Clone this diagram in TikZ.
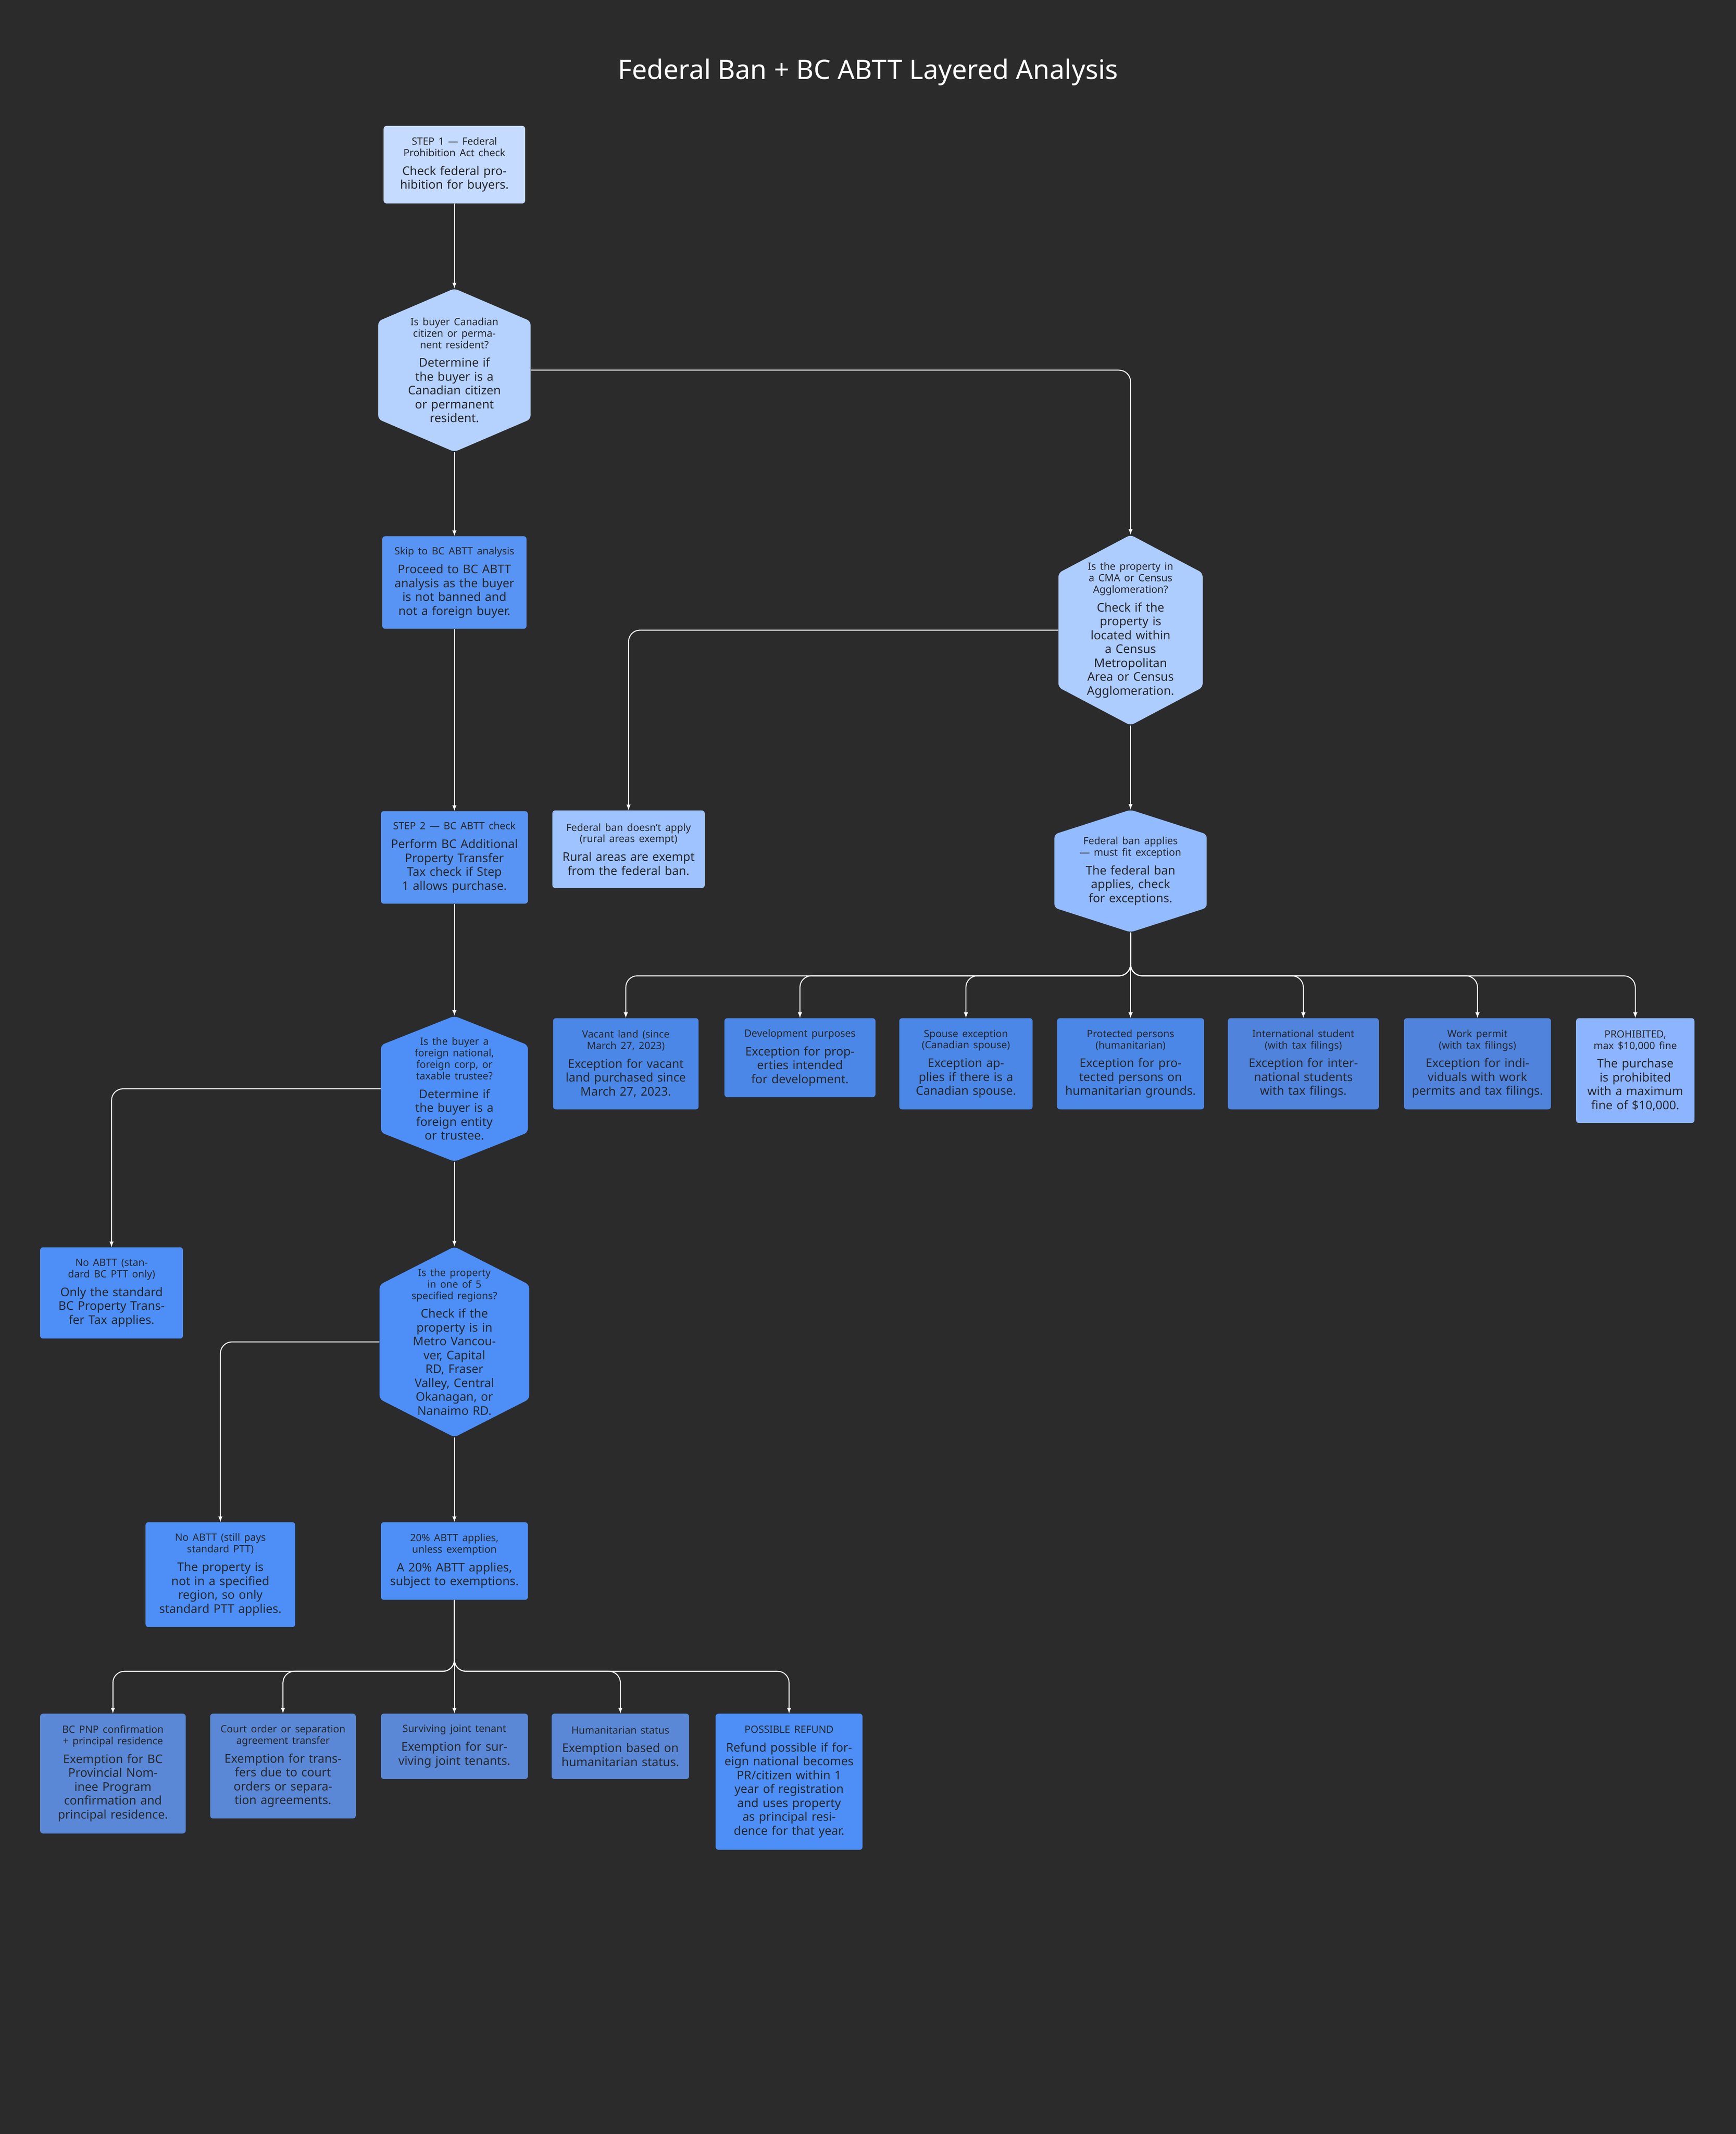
\documentclass[tikz,border=0pt]{standalone}
\usepackage{fontspec}
\setmainfont{Noto Sans}
\usetikzlibrary{positioning}
\definecolor{bg}{HTML}{2B2B2B}
\definecolor{ink}{HTML}{26282D}
\definecolor{cA}{HTML}{C5DBFF}
\definecolor{cB}{HTML}{B5D2FF}
\definecolor{cC}{HTML}{AECDFF}
\definecolor{cD}{HTML}{9EC3FF}
\definecolor{cE}{HTML}{93BBFF}
\definecolor{cF}{HTML}{8DB5FF}
\definecolor{cG}{HTML}{5894F3}
\definecolor{cH}{HTML}{4D8FF7}
\definecolor{cI}{HTML}{4B87E6}
\definecolor{cJ}{HTML}{4F83DC}
\definecolor{cK}{HTML}{5A88D6}
\newcommand{\hdfont}{\bfseries\fontsize{10.5}{12}\selectfont}
\newcommand{\ntext}[2]{{\hdfont #1\par}\vspace{5pt}#2}
\tikzset{
  box/.style={rectangle, rounded corners=3pt, fill=#1, text=ink, align=center,
    font=\fontsize{12.5}{14.5}\selectfont, inner sep=0pt},
  hex/.style={rectangle, text=ink, align=center, inner sep=0pt,
    font=\fontsize{12.5}{14.5}\selectfont,
    path picture={\fill[#1, rounded corners=4pt]
      (path picture bounding box.north)
      -- ($(path picture bounding box.north east)!0.2!(path picture bounding box.south east)$)
      -- ($(path picture bounding box.north east)!0.8!(path picture bounding box.south east)$)
      -- (path picture bounding box.south)
      -- ($(path picture bounding box.north west)!0.8!(path picture bounding box.south west)$)
      -- ($(path picture bounding box.north west)!0.2!(path picture bounding box.south west)$)
      -- cycle;}},
  sz/.style n args={3}{minimum width=#1*0.5mm, minimum height=#2*0.5mm, text width=#3*0.5mm},
  conn/.style={draw=white, line width=1pt, ->, rounded corners=12pt}
}
\usetikzlibrary{calc}
\begin{document}
\begin{tikzpicture}[x=0.5mm, y=-0.5mm, >=latex]
\fill[bg] (0,0) rectangle (1276,1568);
\useasboundingbox (0,0) rectangle (1276,1568);

\node[text=white, font=\bfseries\fontsize{28}{32}\selectfont] (title) at (638,53) {Federal Ban + BC ABTT Layered Analysis};

% linke Kette
\node[box=cA, sz={104}{57}{92}] (step1) at (334,121) {\ntext{STEP 1 --- Federal Prohibition Act check}{Check federal prohibition for buyers.}};
\node[hex=cB, sz={112}{120}{70}] (citizen) at (334,272) {\ntext{Is buyer Canadian citizen or permanent resident?}{Determine if the buyer is a Canadian citizen or permanent resident.}};
\node[box=cG, sz={106}{68}{94}] (skip) at (334,428) {\ntext{Skip to BC ABTT analysis}{Proceed to BC ABTT analysis as the buyer is not banned and not a foreign buyer.}};
\node[box=cG, sz={108}{68}{96}] (step2) at (334,630) {\ntext{STEP 2 --- BC ABTT check}{Perform BC Additional Property Transfer Tax check if Step 1 allows purchase.}};
\node[hex=cH, sz={108}{107}{66}] (foreign) at (334,800) {\ntext{Is the buyer a foreign national, foreign corp, or taxable trustee?}{Determine if the buyer is a foreign entity or trustee.}};
\node[box=cH, sz={105}{67}{93}] (noabttA) at (82,950) {\ntext{No ABTT (standard BC PTT only)}{Only the standard BC Property Transfer Tax applies.}};
\node[hex=cH, sz={110}{140}{70}] (regions) at (334,986) {\ntext{Is the property in one of 5 specified regions?}{Check if the property is in Metro Vancouver, Capital RD, Fraser Valley, Central Okanagan, or Nanaimo RD.}};
\node[box=cH, sz={110}{77}{96}] (noabttB) at (162,1157) {\ntext{No ABTT (still pays standard PTT)}{The property is not in a specified region, so only standard PTT applies.}};
\node[box=cH, sz={108}{57}{96}] (abtt) at (334,1147) {\ntext{20\% ABTT applies, unless exemption}{A 20\% ABTT applies, subject to exemptions.}};

% Ausnahmen BC
\node[box=cK, sz={107}{88}{96}, anchor=north] (bcpnp) at (83,1259) {\ntext{BC PNP confirmation + principal residence}{Exemption for BC Provincial Nominee Program confirmation and principal residence.}};
\node[box=cK, sz={107}{77}{96}, anchor=north] (court) at (208,1259) {\ntext{Court order or separation agreement transfer}{Exemption for transfers due to court orders or separation agreements.}};
\node[box=cK, sz={108}{48}{98}, anchor=north] (joint) at (334,1259) {\ntext{Surviving joint tenant}{Exemption for surviving joint tenants.}};
\node[box=cK, sz={101}{48}{93}, anchor=north] (human) at (456,1259) {\ntext{Humanitarian status}{Exemption based on humanitarian status.}};
\node[box=cH, sz={108}{100}{96}, anchor=north] (refund) at (580,1259) {\ntext{POSSIBLE REFUND}{Refund possible if foreign national becomes PR/citizen within 1 year of registration and uses property as principal residence for that year.}};

% rechte Kette
\node[hex=cC, sz={106}{140}{66}] (cma) at (831,463) {\ntext{Is the property in a CMA or Census Agglomeration?}{Check if the property is located within a Census Metropolitan Area or Census Agglomeration.}};
\node[box=cD, sz={112}{57}{100}] (fedno) at (462,624) {\ntext{Federal ban doesn't apply (rural areas exempt)}{Rural areas are exempt from the federal ban.}};
\node[hex=cE, sz={112}{90}{76}] (fedyes) at (831,640) {\ntext{Federal ban applies --- must fit exception}{The federal ban applies, check for exceptions.}};

% Ausnahmen Bund
\node[box=cI, sz={107}{67}{98}, anchor=north] (vacant) at (460,748) {\ntext{Vacant land (since March 27, 2023)}{Exception for vacant land purchased since March 27, 2023.}};
\node[box=cI, sz={111}{58}{100}, anchor=north] (devel) at (588,748) {\ntext{Development purposes}{Exception for properties intended for development.}};
\node[box=cI, sz={98}{67}{88}, anchor=north] (spouse) at (710,748) {\ntext{Spouse exception (Canadian spouse)}{Exception applies if there is a Canadian spouse.}};
\node[box=cI, sz={108}{67}{100}, anchor=north] (protect) at (831,748) {\ntext{Protected persons (humanitarian)}{Exception for protected persons on humanitarian grounds.}};
\node[box=cJ, sz={111}{67}{98}, anchor=north] (intl) at (958,748) {\ntext{International student (with tax filings)}{Exception for international students with tax filings.}};
\node[box=cJ, sz={108}{67}{98}, anchor=north] (work) at (1086,748) {\ntext{Work permit (with tax filings)}{Exception for individuals with work permits and tax filings.}};
\node[box=cF, sz={87}{77}{80}, anchor=north] (prohib) at (1202,748) {\ntext{PROHIBITED, max \$10,000 fine}{The purchase is prohibited with a maximum fine of \$10,000.}};

%Verbindungen
\draw[conn] (step1) -- (citizen);
\draw[conn] (citizen) -- (skip);
\draw[conn] (skip) -- (step2);
\draw[conn] (step2) -- (foreign);
\draw[conn] (foreign) -- (regions);
\draw[conn] (regions) -- (abtt);
\draw[conn] (citizen.east) -| (cma.north);
\draw[conn] (cma) -- (fedyes);
\draw[conn] (cma.west) -| (fedno.north);
\draw[conn] (foreign.west) -| (noabttA.north);
\draw[conn] (regions.west) -| (noabttB.north);

\coordinate (fedbus) at (831,717);
\foreach \t in {vacant,devel,spouse,intl,work,prohib}
  \draw[conn] (fedyes.south) |- (fedbus -| \t.north) -- (\t.north);
\draw[conn] (fedyes.south) -- (protect.north);

\coordinate (bcbus) at (334,1228);
\foreach \t in {bcpnp,court,human,refund}
  \draw[conn] (abtt.south) |- (bcbus -| \t.north) -- (\t.north);
\draw[conn] (abtt.south) -- (joint.north);
\end{tikzpicture}
\end{document}
